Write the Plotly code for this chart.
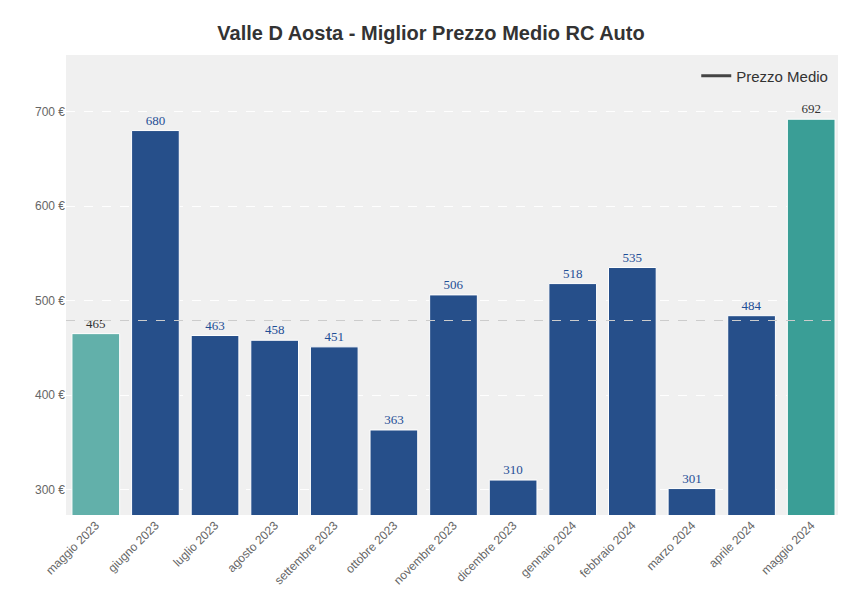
import plotly.graph_objects as go

mesi = ["maggio 2023", "giugno 2023", "luglio 2023", "agosto 2023", "settembre 2023",
        "ottobre 2023", "novembre 2023", "dicembre 2023", "gennaio 2024", "febbraio 2024",
        "marzo 2024", "aprile 2024", "maggio 2024"]
prezzi = [465, 680, 463, 458, 451, 363, 506, 310, 518, 535, 301, 484, 692]

media = sum(prezzi) / len(prezzi)
colori = ["#62b0aa"] + ["#264f8a"] * 11 + ["#3a9e96"]
colori_testo = ["#333333"] + ["#1f4e96"] * 11 + ["#333333"]

fig = go.Figure()
fig.add_trace(go.Bar(
    x=mesi, y=prezzi, marker=dict(color=colori, line=dict(color="white", width=1)),
    text=[str(p) for p in prezzi], textposition="outside",
    textfont=dict(color=colori_testo, size=13, family="Arial Black"),
    cliponaxis=False, showlegend=False, width=0.8,
))
fig.add_trace(go.Scatter(
    x=[mesi[0], mesi[-1]], y=[media, media], mode="lines",
    line=dict(color="#444444", width=3), name="Prezzo Medio",
    visible=True, opacity=0,
))
fig.add_hline(y=media, line=dict(color="#cccccc", width=1.2, dash="dash"))
# legend entry only
fig.add_trace(go.Scatter(x=[None], y=[None], mode="lines",
                         line=dict(color="#444444", width=3), name="Prezzo Medio"))
fig.data[1].showlegend = False

fig.update_layout(
    title=dict(text="<b>Valle D Aosta - Miglior Prezzo Medio RC Auto</b>", x=0.5, y=0.97,
               font=dict(size=20, color="#333333", family="Arial")),
    width=846, height=610, paper_bgcolor="white", plot_bgcolor="#f0f0f0",
    margin=dict(l=58, r=13, t=47, b=103),
    font=dict(family="Arial", color="#666666"),
    legend=dict(x=0.99, y=0.99, xanchor="right", yanchor="top", bgcolor="rgba(0,0,0,0)",
                font=dict(size=15, color="#333333")),
    bargap=0.2,
)
fig.update_yaxes(range=[273, 760], tickvals=[300, 400, 500, 600, 700],
                 ticktext=["300 €", "400 €", "500 €", "600 €", "700 €"],
                 gridcolor="rgba(255,255,255,0.9)", griddash="dash", zeroline=False,
                 tickfont=dict(size=12, color="#666666"))
fig.update_xaxes(tickangle=-45, tickfont=dict(size=12, color="#666666"), showgrid=False,
                 range=[-0.5, 12.5])

fig.write_html("out.html")
